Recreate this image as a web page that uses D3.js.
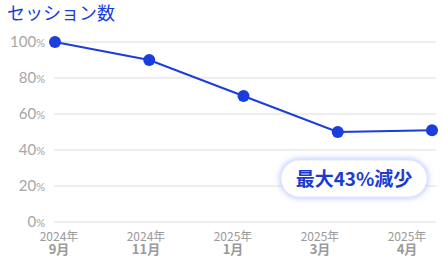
<!doctype html>
<html>
<head>
<meta charset="UTF-8">
<script src="https://cdn.jsdelivr.net/npm/d3@7"></script>
<style>
body { margin: 0; background: #fff; }
svg { display: block; }
</style>
</head>
<body>
<div id="chart"></div>
<script>
// data
var years = ["2024年", "2024年", "2025年", "2025年", "2025年"];
var months = ["9月", "11月", "1月", "3月", "4月"];
var sessions = [100, 90, 70, 50, 51];
var yTicks = [0, 20, 40, 60, 80, 100];
var title = "セッション数";
var note = "最大43%減少";

var w = 444, h = 264;
var blue = "#1a3ddd";

var svg = d3.select("#chart").append("svg")
  .attr("width", w)
  .attr("height", h);

var defs = svg.append("defs");
var glow = defs.append("filter").attr("id", "glow")
  .attr("x", "-20%").attr("y", "-40%").attr("width", "140%").attr("height", "180%");
glow.append("feDropShadow")
  .attr("dx", 0).attr("dy", 0).attr("stdDeviation", 3)
  .attr("flood-color", "#5b78ff").attr("flood-opacity", 0.55);

var y = d3.scaleLinear().domain([0, 100]).range([222, 42]);
// markers
var x = d3.scaleLinear().domain([0, sessions.length - 1]).range([55, 432]);
// month labels sit on their own evenly spaced band
var xl = d3.scalePoint().domain(d3.range(months.length)).range([59, 407]);

// title
svg.append("text")
  .attr("x", 7).attr("y", 20)
  .attr("font-family", "'Noto Sans CJK JP', sans-serif")
  .attr("font-size", 18)
  .attr("fill", blue)
  .text(title);

// grid + y labels
var gy = svg.append("g");
gy.selectAll("line").data(yTicks).enter().append("line")
  .attr("x1", 54).attr("x2", 436)
  .attr("y1", function(d) { return y(d); })
  .attr("y2", function(d) { return y(d); })
  .attr("stroke", "#eeeeee")
  .attr("stroke-width", 2);

var lab = gy.selectAll("text").data(yTicks).enter().append("text")
  .attr("x", 45)
  .attr("y", function(d) { return y(d) + 5; })
  .attr("text-anchor", "end")
  .attr("font-family", "Lato, sans-serif")
  .attr("fill", "#a6a6a6");
lab.append("tspan").attr("font-size", 15).text(function(d) { return d; });
lab.append("tspan").attr("font-size", 11).text("%");

// x labels
var gx = svg.append("g")
  .attr("font-family", "'Noto Sans CJK JP', sans-serif")
  .attr("text-anchor", "middle")
  .attr("fill", "#9a9a9a");
gx.selectAll("text.yr").data(years).enter().append("text")
  .attr("class", "yr")
  .attr("x", function(d, i) { return xl(i); })
  .attr("y", 241)
  .attr("font-size", 12)
  .text(function(d) { return d; });
gx.selectAll("text.mo").data(months).enter().append("text")
  .attr("class", "mo")
  .attr("x", function(d, i) { return xl(i); })
  .attr("y", 254)
  .attr("font-size", 13)
  .attr("font-weight", "bold")
  .text(function(d) { return d; });

// line + dots
var line = d3.line()
  .x(function(d, i) { return x(i); })
  .y(function(d) { return y(d); });

svg.append("path")
  .datum(sessions)
  .attr("d", line)
  .attr("fill", "none")
  .attr("stroke", blue)
  .attr("stroke-width", 2);

svg.selectAll("circle").data(sessions).enter().append("circle")
  .attr("cx", function(d, i) { return x(i); })
  .attr("cy", function(d) { return y(d); })
  .attr("r", 6)
  .attr("fill", blue);

// badge
var badge = svg.append("g").attr("transform", "translate(354,178)");
badge.append("rect")
  .attr("x", -73).attr("y", -18)
  .attr("width", 146).attr("height", 37)
  .attr("rx", 18.5)
  .attr("fill", "#fff")
  .attr("stroke", "#dfe5ff")
  .attr("filter", "url(#glow)");
badge.append("text")
  .attr("y", 8)
  .attr("text-anchor", "middle")
  .attr("font-family", "'Noto Sans CJK JP', sans-serif")
  .attr("font-size", 19)
  .attr("font-weight", "bold")
  .attr("fill", "#1c3bd0")
  .text(note);
</script>
</body>
</html>
